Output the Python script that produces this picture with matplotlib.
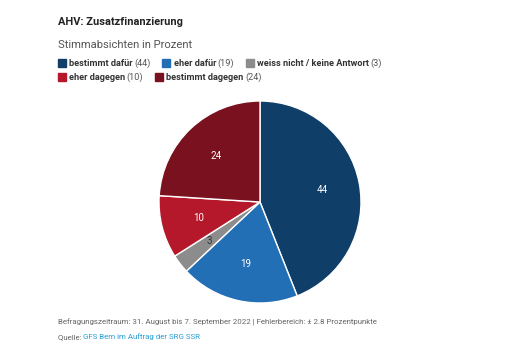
import matplotlib

matplotlib.use("Agg")
import matplotlib.pyplot as plt

categories = ["bestimmt dafür", "eher dafür", "weiss nicht / keine Antwort", "eher dagegen", "bestimmt dagegen"]
values = [44, 19, 3, 10, 24]
colors = ["#0f3e69", "#226fb6", "#8c8c8c", "#b5182b", "#79121e"]
label_colors = ["white", "white", "#333333", "white", "white"]
legend_rows = [[0, 1, 2], [3, 4]]

FONT = "Roboto"
W, H = 510, 362

fig = plt.figure(figsize=(W / 100, H / 100), dpi=100)
fig.patch.set_facecolor("white")

def fx(px):
    return px / W

def fy(py):
    return 1 - py / H

fig.text(fx(58), fy(22), "AHV: Zusatzfinanzierung", family=FONT, fontsize=7.9,
         fontweight="bold", color="#222222", va="center")
fig.text(fx(58), fy(45), "Stimmabsichten in Prozent", family=FONT, fontsize=8.1,
         color="#555555", va="center")

# legend, laid out as flowing text
fig.canvas.draw()
renderer = fig.canvas.get_renderer()
row_y = [63, 77]
for r, row in enumerate(legend_rows):
    x = 58
    y = row_y[r]
    for i in row:
        fig.patches.append(plt.Rectangle((fx(x), fy(y + 4)), fx(8), 8 / H,
                                         transform=fig.transFigure, color=colors[i]))
        x += 11
        t = fig.text(fx(x), fy(y), categories[i], family=FONT, fontsize=6.6,
                     fontweight="bold", color="#333333", va="center")
        x += t.get_window_extent(renderer).width + 1.5
        t = fig.text(fx(x), fy(y), f"({values[i]})", family=FONT, fontsize=6.6,
                     color="#555555", va="center")
        x += t.get_window_extent(renderer).width + 12

cx, cy, rad = 260, 202, 101
ax = fig.add_axes([fx(cx - rad), fy(cy + rad), 2 * rad / W, 2 * rad / H])
wedges, texts, autotexts = ax.pie(
    values,
    colors=colors,
    startangle=90,
    counterclock=False,
    autopct=lambda p: f"{p:.0f}",
    pctdistance=0.63,
    wedgeprops={"edgecolor": "white", "linewidth": 1},
    textprops={"family": FONT, "fontsize": 7},
)
for t, c in zip(autotexts, label_colors):
    t.set_color(c)
ax.set_xlim(-1, 1)
ax.set_ylim(-1, 1)
ax.set_aspect("equal")
ax.axis("off")

fig.text(fx(58), fy(322), "Befragungszeitraum: 31. August bis 7. September 2022 | Fehlerbereich: ± 2.8 Prozentpunkte",
         family=FONT, fontsize=5.7, color="#666666", va="center")
t = fig.text(fx(58), fy(337), "Quelle: ", family=FONT, fontsize=5.7, color="#666666", va="center")
w = t.get_window_extent(renderer).width
fig.text(fx(58 + w), fy(337), "GFS Bern im Auftrag der SRG SSR", family=FONT, fontsize=5.7,
         color="#2a9fd8", va="center")

fig.savefig("out.png", dpi=100, facecolor="white")
